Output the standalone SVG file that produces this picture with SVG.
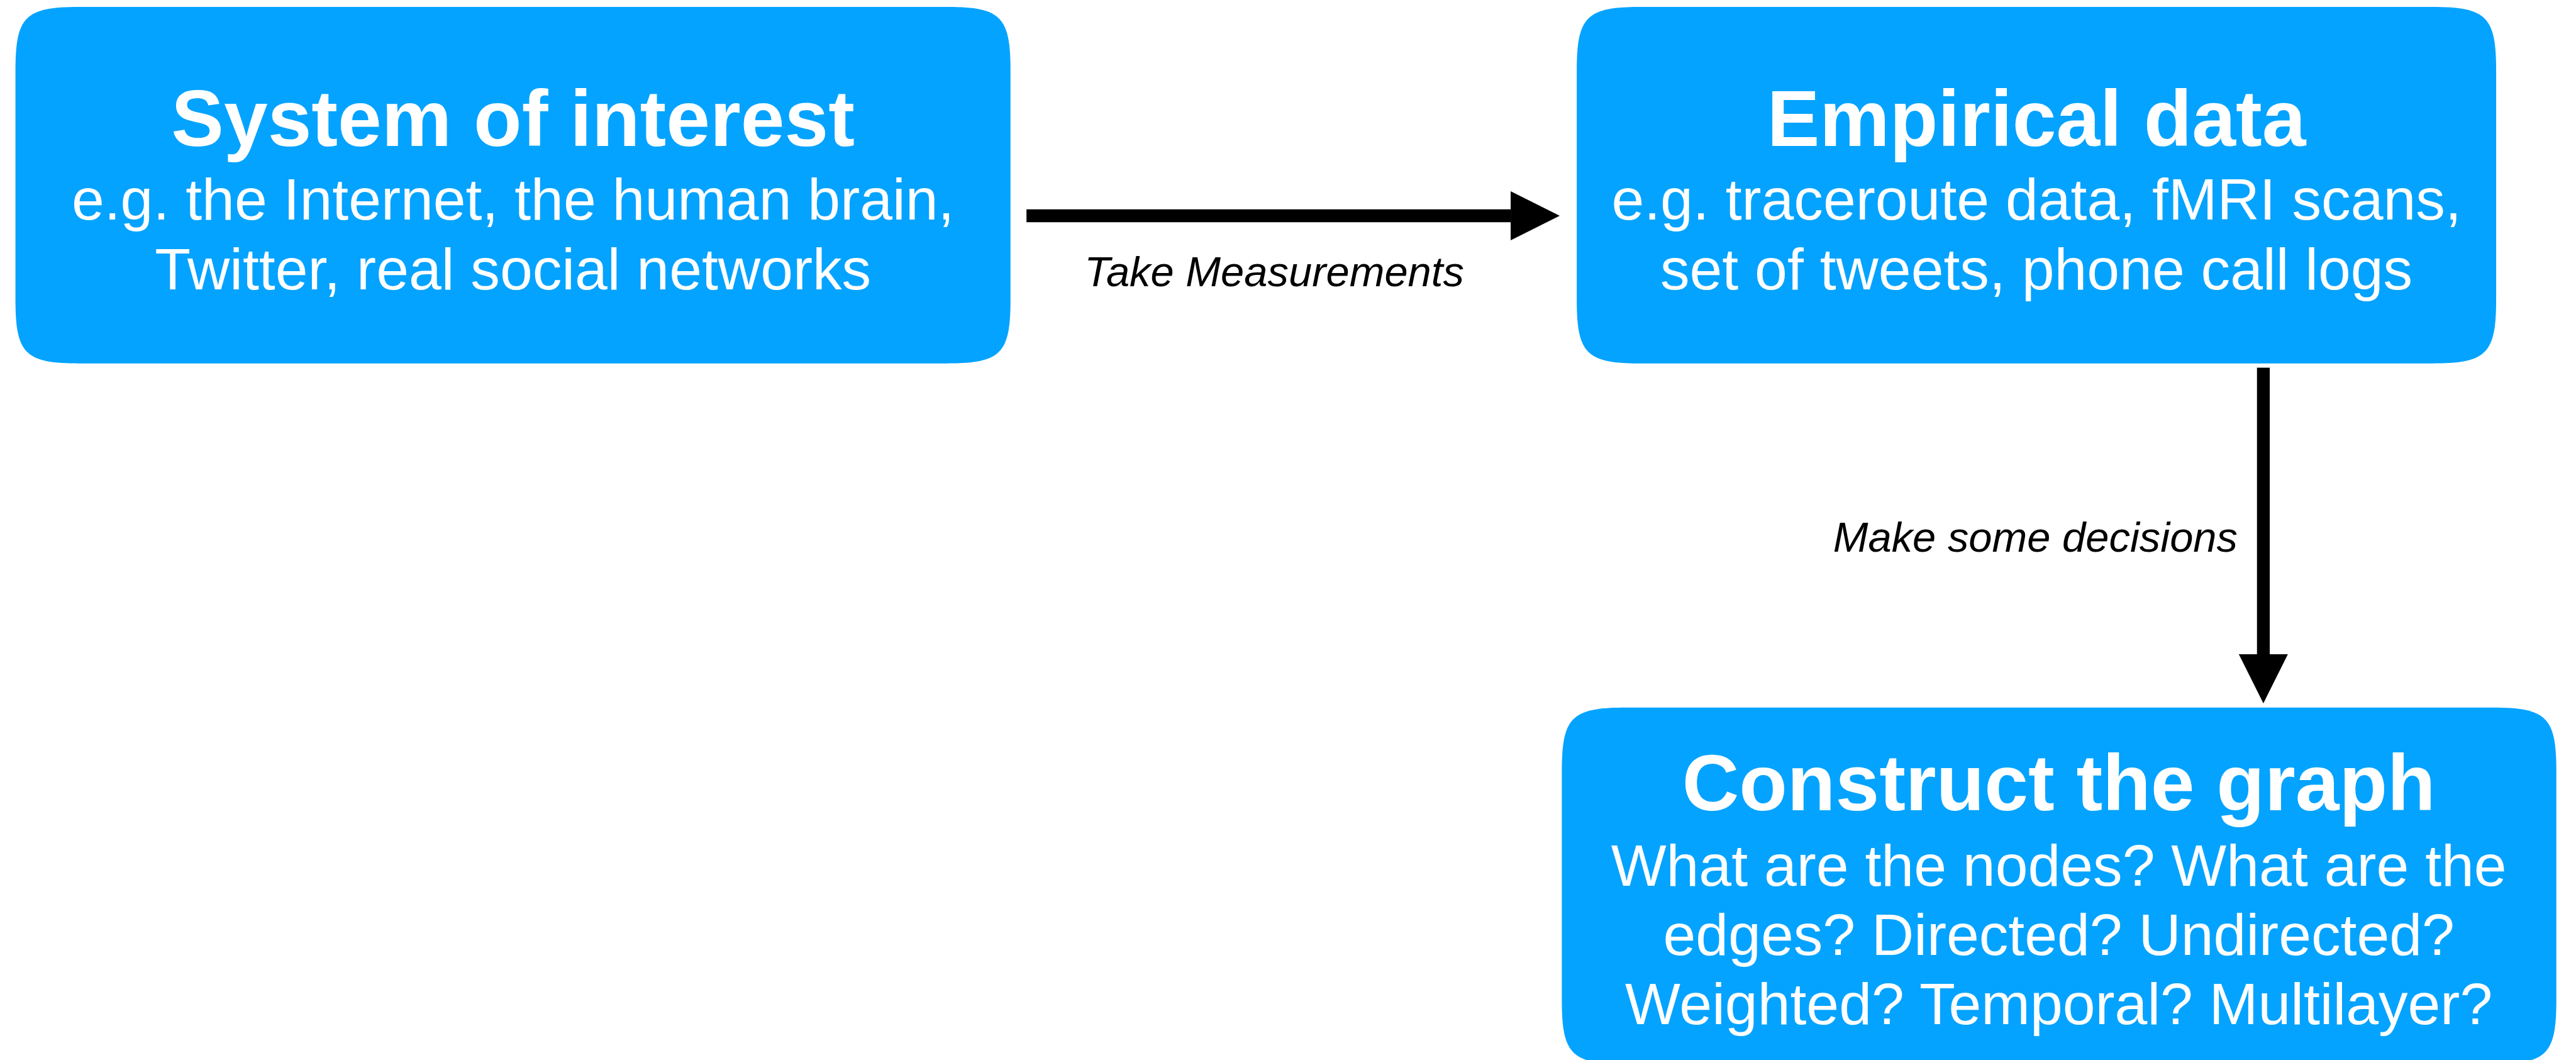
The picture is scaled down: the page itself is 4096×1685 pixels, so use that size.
<svg xmlns="http://www.w3.org/2000/svg" width="4096" height="1685" viewBox="0 0 4096 1685">
  <style>
    .box { fill: #04A3FF; }
    .title { font-family: "Liberation Sans", Arial, Helvetica, sans-serif; font-weight: bold; font-size: 148px; fill: #FFFFFF; text-anchor: middle; }
    .body { font-family: "Liberation Sans", Arial, Helvetica, sans-serif; font-size: 110px; fill: #FFFFFF; text-anchor: middle; }
    .label { font-family: "Liberation Sans", Arial, Helvetica, sans-serif; font-style: italic; font-size: 79px; fill: #000000; text-anchor: middle; }
    .edge { stroke: #000000; stroke-width: 24; fill: none; }
  </style>
  <defs>
    <marker id="head" markerUnits="userSpaceOnUse" viewBox="0 0 92 92" markerWidth="92" markerHeight="92" refX="0" refY="46" orient="auto">
      <path d="M0,0 L92,46 L0,92 Z" fill="#000000"/>
    </marker>
  </defs>
  <rect width="4096" height="1685" fill="#FFFFFF"/>
  <!-- drawn in source units, scaled down to the window -->
  <g transform="scale(0.847)">
    <g id="node-system">
      <path class="box" d="M149,13 H1777 C1879,13 1897,31 1897,133 V562 C1897,664 1879,682 1777,682 H149 C47,682 29,664 29,562 V133 C29,31 47,13 149,13 Z"/>
      <text class="title" x="963" y="274">System of interest</text>
      <text class="body" x="963" y="412">e.g. the Internet, the human brain,</text>
      <text class="body" x="963" y="543">Twitter, real social networks</text>
    </g>
    <g id="node-empirical">
      <path class="box" d="M3080,13 H4566 C4668,13 4686,31 4686,133 V562 C4686,664 4668,682 4566,682 H3080 C2978,682 2960,664 2960,562 V133 C2960,31 2978,13 3080,13 Z"/>
      <text class="title" x="3823" y="274">Empirical data</text>
      <text class="body" x="3823" y="412">e.g. traceroute data, fMRI scans,</text>
      <text class="body" x="3823" y="543">set of tweets, phone call logs</text>
    </g>
    <g id="node-graph">
      <path class="box" d="M3052,1328 H4679 C4781,1328 4799,1346 4799,1448 V1877 C4799,1979 4781,1997 4679,1997 H3052 C2950,1997 2932,1979 2932,1877 V1448 C2932,1346 2950,1328 3052,1328 Z"/>
      <text class="title" x="3865" y="1521">Construct the graph</text>
      <text class="body" x="3865" y="1662">What are the nodes? What are the</text>
      <text class="body" x="3865" y="1792">edges? Directed? Undirected?</text>
      <text class="body" x="3865" y="1922">Weighted? Temporal? Multilayer?</text>
    </g>
    <g id="connectors">
      <line class="edge" x1="1927" y1="405" x2="2836" y2="405" marker-end="url(#head)"/>
      <text class="label" x="2392" y="537">Take Measurements</text>
      <line class="edge" x1="4249" y1="690" x2="4249" y2="1228" marker-end="url(#head)"/>
      <text class="label" x="3821" y="1036">Make some decisions</text>
    </g>
  </g>
</svg>
